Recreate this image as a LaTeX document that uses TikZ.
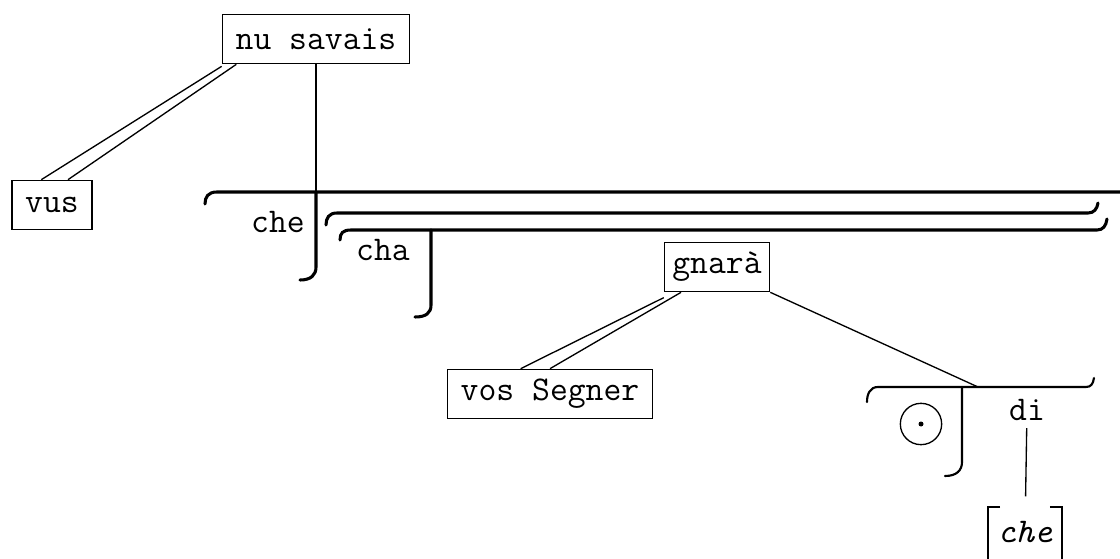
\documentclass[tikz,border=0pt]{standalone}
\usepackage{fontspec}
\usepackage{tikz}

\begin{document}
\begin{tikzpicture}[x=0.75pt,y=0.75pt,yscale=-1,xscale=1,
  word/.style={font=\ttfamily\fontsize{26}{30}\selectfont},
  box/.style={word,draw,line width=1pt,minimum height=37pt,inner xsep=10pt},
  thin/.style={line width=1pt},
  brk/.style={line width=2.3pt,line cap=round}]
\useasboundingbox (0,0) rectangle (1120,559);

% Text Node
\node [box] (nusavais) at (316,39) {nu savais};
% Text Node
\node [box] (vus) at (52,205) {vus};
% Text Node
\node [box,inner xsep=6pt] (gnara) at (717,267) {gnarà};
% Text Node
\node [box] (vossegner) at (550,394) {vos Segner};
% Text Node
\node [word] (che) at (278,222) {che};
% Text Node
\node [word] (cha) at (383,250) {cha};
% Text Node
\node [word] (di) at (1027,410) {di};
% Text Node
\node [word,minimum height=37pt,inner xsep=7pt] (chebr) at (1025,532) {\itshape che};
% Shape: Circle
\node [circle,draw,thin,minimum size=31pt,inner sep=0pt] (zero) at (921,424) {};
\fill (zero.center) circle (2.5);

\coordinate (chejoin) at (316,192);
\coordinate (dijoin) at (978,387);

%Straight Lines (double rails)
\draw [thin] ([yshift=1.5pt]nusavais.south west) -- ([xshift=-8pt]vus.north);
\draw [thin] ([xshift=11pt]nusavais.south west) -- ([xshift=12pt]vus.north);
\draw [thin] (nusavais.south) -- (chejoin);
\draw [thin] ([yshift=4pt]gnara.south west) -- ([xshift=-22pt]vossegner.north);
\draw [thin] ([xshift=13pt]gnara.south west) -- (vossegner.north);
\draw [thin] (gnara.south east) -- (dijoin);
\draw [thin,shorten <=2pt,shorten >=8pt] (di) -- (chebr);

%Brackets
\draw [brk] (205,204) .. controls (205,197) and (208,192) .. (217,192) -- (1125,192);
\draw [brk] (326,225) .. controls (326,218) and (329,213) .. (337,213) -- (1088,213) .. controls (1094,213) and (1097,209) .. (1098,203);
\draw [brk] (340,240) .. controls (340,233) and (343,230) .. (351,230) -- (1097,230) .. controls (1103,230) and (1106,226) .. (1107,219);
\draw [brk] (chejoin) -- (316,267) .. controls (316,275) and (311,280) .. (300,280);
\draw [brk] (431,230) -- (431,305) .. controls (431,313) and (426,317) .. (415,317);

\draw [line width=1.6pt,line cap=round] (867,402) .. controls (867,394) and (870,387) .. (878,387) -- (1086,387) .. controls (1091,387) and (1093,384) .. (1094,378);
\draw [line width=1.6pt,line cap=round] (962,387) -- (962,462) .. controls (962,470) and (957,476) .. (945,476);

\draw [thin] ([xshift=9pt]chebr.north west) -- (chebr.north west) -- ++(0,60);
\draw [thin] ([xshift=-9pt]chebr.north east) -- (chebr.north east) -- ++(0,60);

\end{tikzpicture}
\end{document}
